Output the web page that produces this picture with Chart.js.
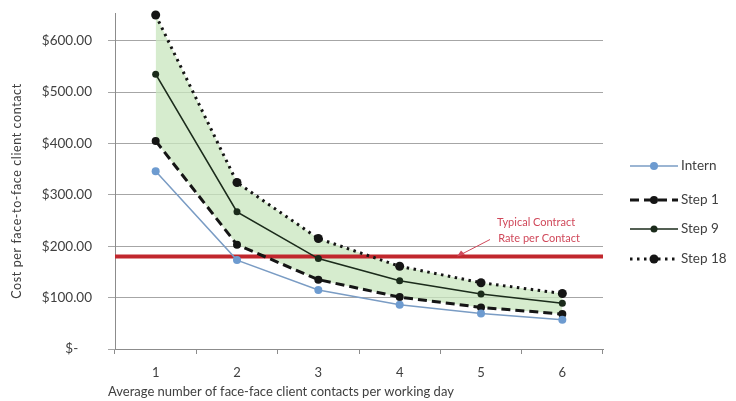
<!DOCTYPE html>
<html>
<head>
<meta charset="utf-8">
<script src="https://cdn.jsdelivr.net/npm/chart.js@4/dist/chart.umd.min.js"></script>
<style>
html,body{margin:0;padding:0;background:#fff;}
#wrap{width:736px;height:401px;position:relative;}
</style>
</head>
<body>
<div id="wrap"><canvas id="c" width="736" height="401"></canvas></div>
<script>
const categories = ["1", "2", "3", "4", "5", "6"];
const seriesNames = ["Intern", "Step 1", "Step 9", "Step 18"];
const internValues = [346, 173, 115, 86, 69, 57];
const step1Values = [405, 203, 135, 101, 81, 68];
const step9Values = [535, 267, 176, 133, 107, 89];
const step18Values = [650, 324, 215, 161, 129, 108];
const contractRate = 180;
const contractLabel = ["Typical Contract", "Rate per Contact"];
const yTicks = [0, 100, 200, 300, 400, 500, 600];
const yTitle = "Cost per face-to-face client contact";
const xTitle = "Average number of face-face client contacts per working day";

const FONT = "Lato, 'Open Sans', sans-serif";
const TXT = "#404040";

const extras = {
  id: "extras",
  beforeDatasetsDraw(chart) {
    const ctx = chart.ctx, y = chart.scales.y, a = chart.chartArea;
    const py = y.getPixelForValue(contractRate);
    ctx.save();
    ctx.strokeStyle = "#c1272d";
    ctx.lineWidth = 4;
    ctx.beginPath(); ctx.moveTo(a.left, py); ctx.lineTo(a.right, py); ctx.stroke();
    ctx.restore();
  },
  afterDraw(chart) {
    const ctx = chart.ctx, a = chart.chartArea, y = chart.scales.y;
    const py = y.getPixelForValue(contractRate);
    ctx.save();
    ctx.fillStyle = "#d0485a";
    ctx.font = "11px " + FONT;
    ctx.textAlign = "center"; ctx.textBaseline = "middle";
    ctx.fillText(contractLabel[0], 536, py - 34);
    ctx.fillText(contractLabel[1], 539, py - 18);
    ctx.strokeStyle = "#d0485a"; ctx.lineWidth = 1;
    ctx.beginPath(); ctx.moveTo(490, py - 17); ctx.lineTo(459, py - 1); ctx.stroke();
    ctx.fillStyle = "#d0485a";
    ctx.beginPath(); ctx.moveTo(457, py); ctx.lineTo(461, py - 6); ctx.lineTo(465, py - 2); ctx.closePath(); ctx.fill();
    ctx.fillStyle = TXT;
    ctx.font = "13px " + FONT;
    ctx.textAlign = "left"; ctx.textBaseline = "middle";
    ctx.fillText(xTitle, 108, 392);
    ctx.translate(17, 191);
    ctx.rotate(-Math.PI / 2);
    ctx.textAlign = "center";
    ctx.font = "12.5px " + FONT;
    if ('letterSpacing' in ctx) ctx.letterSpacing = "0.6px";
    ctx.fillText(yTitle, 0, 0);
    ctx.restore();
    ctx.save();
    const ly = [166, 200, 229, 259];
    chart.data.datasets.forEach((ds, i) => {
      const yy = ly[i];
      ctx.strokeStyle = ds.borderColor;
      ctx.lineWidth = ds.borderWidth;
      ctx.setLineDash(ds.borderDash || []);
      ctx.beginPath(); ctx.moveTo(630, yy); ctx.lineTo(678, yy); ctx.stroke();
      ctx.setLineDash([]);
      ctx.fillStyle = ds.pointBackgroundColor;
      ctx.beginPath(); ctx.arc(654, yy, ds.pointRadius, 0, Math.PI * 2); ctx.fill();
      ctx.fillStyle = TXT;
      ctx.font = "13.5px " + FONT;
      ctx.textAlign = "left"; ctx.textBaseline = "middle";
      ctx.fillText(seriesNames[i], 681, yy);
    });
    ctx.restore();
  }
};

new Chart(document.getElementById("c"), {
  type: "line",
  data: {
    labels: categories,
    datasets: [
      { label: seriesNames[0], data: internValues, borderColor: "#7a9cc4", borderWidth: 1.5,
        pointBackgroundColor: "#6d9bd0", pointBorderWidth: 0, pointRadius: 4, fill: false, tension: 0, clip: false },
      { label: seriesNames[1], data: step1Values, borderColor: "#151515", borderWidth: 3, borderDash: [9, 5],
        pointBackgroundColor: "#151515", pointBorderWidth: 0, pointRadius: 4, fill: false, tension: 0, clip: false },
      { label: seriesNames[2], data: step9Values, borderColor: "#1b2b1b", borderWidth: 1.6,
        pointBackgroundColor: "#1b2b1b", pointBorderWidth: 0, pointRadius: 3.5, fill: false, tension: 0, clip: false },
      { label: seriesNames[3], data: step18Values, borderColor: "#151515", borderWidth: 3, borderDash: [2.5, 4.5],
        pointBackgroundColor: "#151515", pointBorderWidth: 0, pointRadius: 4.5,
        fill: { target: 1 }, backgroundColor: "rgba(200,230,190,0.75)", tension: 0, clip: false }
    ]
  },
  options: {
    responsive: false,
    animation: false,
    devicePixelRatio: 1,
    layout: { padding: { top: 13, right: 133, left: 0, bottom: 0 } },
    plugins: {
      legend: { display: false },
      tooltip: { enabled: false },
      filler: { drawTime: "beforeDatasetsDraw" }
    },
    scales: {
      x: {
        type: "category",
        offset: true,
        afterFit: s => { s.height = 52; s.paddingLeft = 0; s.paddingRight = 0; },
        grid: { display: true, offset: true, drawOnChartArea: false, drawTicks: true, tickLength: 5, color: "#8c8c8c" },
        border: { display: true, color: "#8c8c8c", width: 1 },
        ticks: { color: TXT, font: { family: FONT, size: 13 }, padding: 11 }
      },
      y: {
        min: 0, max: 654,
        afterFit: s => { s.width = 115; s.paddingTop = 0; s.paddingBottom = 0; },
        afterBuildTicks: s => { s.ticks = yTicks.map(v => ({ value: v })); },
        grid: { color: "#a6a6a6", lineWidth: 1, drawTicks: true, tickLength: 7 },
        border: { display: true, color: "#8c8c8c", width: 1 },
        ticks: {
          color: TXT, font: { family: FONT, size: 13.5 }, padding: 16,
          callback: v => v === 0 ? "$-    " : "$" + v.toFixed(2)
        }
      }
    }
  },
  plugins: [extras]
});
</script>
</body>
</html>
